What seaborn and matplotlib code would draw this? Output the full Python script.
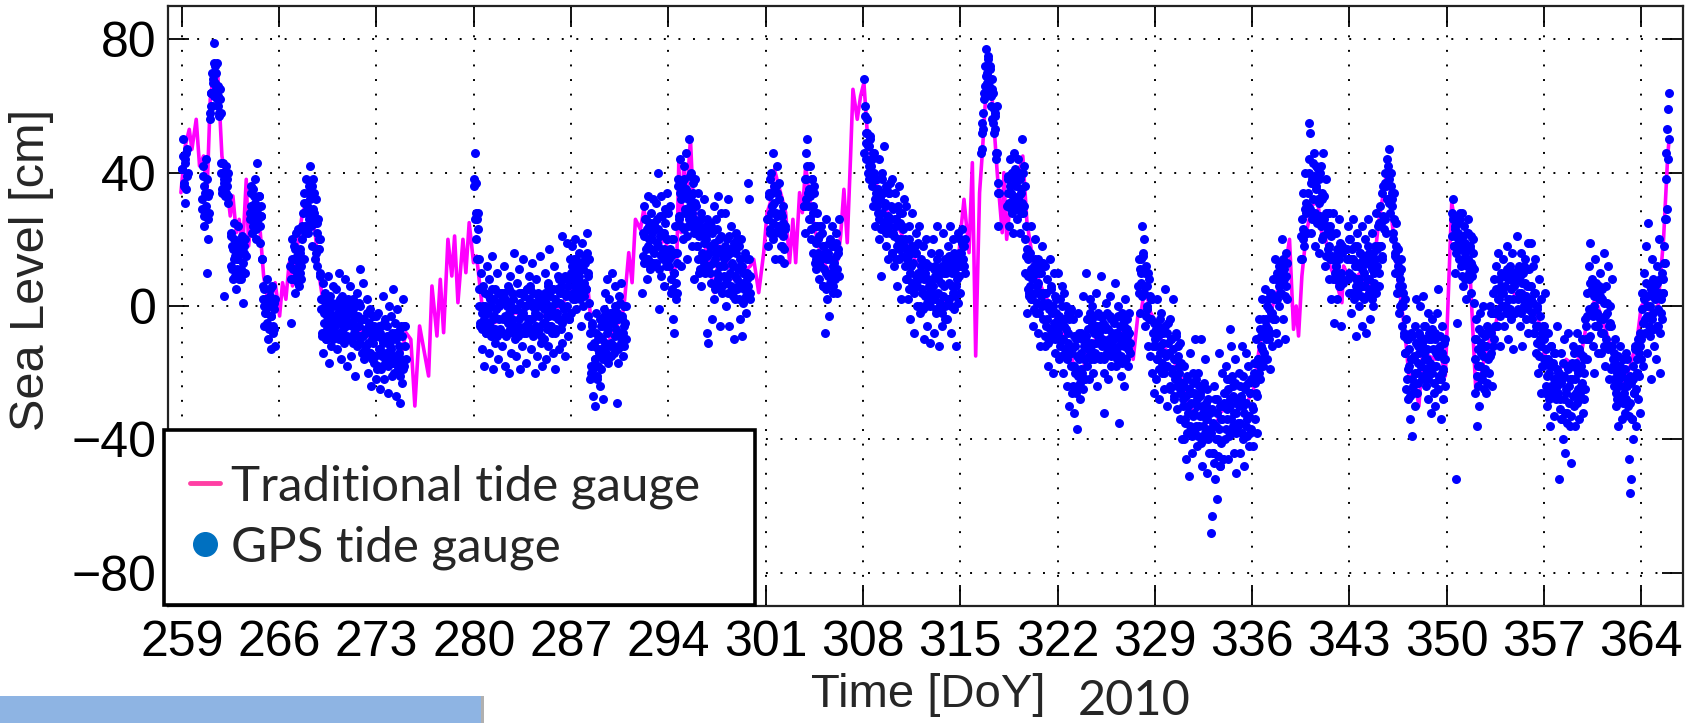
import numpy as np
import pandas as pd
import matplotlib
matplotlib.use("Agg")
import matplotlib.pyplot as plt
from matplotlib.lines import Line2D
from matplotlib.patches import Rectangle
import seaborn as sns

nan = float("nan")

# ---------------------------------------------------------------------------
# GPS tide gauge sea level [cm], 32 readings per day (every 45 min).
# gps_DDD holds the readings on the full 1.5 h marks, gps_DDD_mid the ones
# 45 min later; one list per week starting on day DDD; nan = no fix.
# ---------------------------------------------------------------------------
gps_259 = [
    41, 50, 36, 44, 31, 46, 39, nan, nan, nan, nan, nan, nan, nan, nan, nan,
    nan, nan, nan, nan, nan, nan, nan, 32, 42, 24, 36, 28, 44, 10, 20, 34,
    56, 60, 64, 70, 67, 79, 72, 65, 73, 63, 60, 57, 62, 43, 35, 40,
    3, 38, 33, 42, 36, 31, nan, nan, 22, 12, 18, 8, 25, 15, 5, 19,
    14, 24, 8, 18, 11, 21, 1, 16, 10, 20, nan, nan, nan, nan, 28, 36,
    30, 22, 35, 26, 38, 20, 43, 29, 24, 33, 19, 27, 14, 6, 0, -6,
    2, -6, 8, -10, 0, 5, -13, -3, 6, -8, 1, -12, nan, nan, nan, nan,
]
gps_259_mid = [
    41, 45, 37, 43, 35, 47, 40, nan, nan, nan, nan, nan, nan, nan, nan, nan,
    nan, nan, nan, nan, nan, nan, nan, 29, 39, 27, 34, 30, 38, 26, 33, 28,
    58, 64, 60, 68, 63, 73, 67, 70, 62, 66, 58, 65, 58, 40, 34, 43,
    37, 40, 34, 38, 33, 40, nan, nan, 21, 11, 17, 14, 20, 9, 16, 11,
    14, 18, 10, 16, 8, 20, 13, 18, 10, 15, nan, nan, nan, nan, 26, 34,
    30, 24, 33, 27, 31, 23, 29, 26, 33, 24, 30, 27, 14, 2, 5, -2,
    -2, 2, -5, 0, -7, 3, -3, 1, -6, -1, -7, 2, nan, nan, nan, nan,
]
gps_266 = [
    nan, nan, nan, nan, nan, nan, nan, nan, nan, nan, nan, nan, nan, 12, -5, 20,
    8, 18, 4, 22, 14, 10, 23, 6, 16, 12, 20, 28, 14, 34, 24, 38,
    30, 22, 36, 42, 26, 33, 18, 38, 28, 14, 32, 22, 12, 26, 17, 9,
    2, -8, 7, -14, -2, 4, -10, -5, 9, -17, -1, 3, -12, -6, 6, -3,
    -6, 5, -13, 1, -9, 10, -3, -16, 3, -7, -1, -11, 8, -4, -18, 0,
    -2, -10, 6, -15, -5, 2, -8, -21, -3, 4, -12, -6, 1, 11, -9, -14,
    -4, 7, -16, -8, -12, 2, -20, -6, -14, -1, -24, -10, -3, -17, -9, -22,
]
gps_266_mid = [
    nan, nan, nan, nan, nan, nan, nan, nan, nan, nan, nan, nan, nan, 8, 14, 11,
    14, 8, 17, 11, 15, 7, 13, 10, 17, 8, 24, 23, 31, 22, 31, 28,
    30, 34, 26, 32, 24, 36, 29, 34, 26, 25, 16, 25, 17, 20, 10, 20,
    -1, -9, 2, -5, 0, -10, -3, -7, 2, -8, -2, -5, 1, -10, -3, -8,
    -4, 0, -8, -2, -10, 2, -5, 0, -8, -3, -10, 1, -6, -1, -9, 2,
    -2, -10, 1, -6, -1, -11, -4, -8, 1, -9, -3, -6, 0, -11, -4, -9,
    -9, -4, -13, -7, -15, -2, -11, -5, -14, -8, -16, -3, -11, -6, -15, -3,
]
gps_273 = [
    -8, -19, -2, -13, -25, -6, -15, 3, -11, -22, -4, -17, -9, -26, 0, -14,
    -12, -3, -21, 5, -16, -8, -27, -10, -1, -19, -14, -29, -6, -23, 2, -17,
    -18, -6,
] + [nan] * 78
gps_273_mid = [
    -9, -18, -6, -13, -8, -19, -10, -15, -5, -17, -10, -14, -6, -18, -11, -16,
    -13, -8, -17, -10, -20, -5, -15, -9, -18, -12, -21, -7, -16, -9, -19, -6,
    -12, -16,
] + [nan] * 78
gps_280 = [
    36, 46, 20, 28, 14, 23, 5, -6, 10, -2, -13, 6, -18, 0, -8, 12,
    -5, 8, -14, 2, -9, 15, -19, -3, 5, -11, -1, 10, -16, 0, -7, 4,
    3, -12, -4, 12, -18, 1, -8, 6, -20, -2, 9, -14, -6, 2, 16, -10,
    -1, -15, 7, -6, 11, -19, -3, 4, -12, 14, -8, 0, -17, 5, -5, 9,
    -4, 6, -13, 13, -9, 1, -20, -2, 8, -15, 3, -7, 15, -11, 0, -18,
    2, -10, 10, -16, -3, 7, -12, 17, -6, -1, 5, -14, 12, -8, -19, 1,
    -2, 9, -13, 4, -7, 21, -11, 0, 8, -15, 3, 19, -9, 6, -4, 14,
]
gps_280_mid = [
    38, 26, 37, 26, 28, 14, 0, -5, 5, -7, 0, -4, 4, -8, -1, -6,
    -2, 3, -6, 0, -8, 5, -4, 2, -7, -1, -9, 4, -4, 1, -8, 4,
    1, -8, 4, -3, 2, -9, 0, -5, 5, -7, 0, -4, 4, -8, -1, -6,
    -7, -1, -9, 4, -4, 1, -8, 4, -2, 3, -6, 0, -8, 5, -4, 2,
    5, -7, 0, -4, 4, -8, -1, -6, 1, -8, 4, -3, 2, -9, 0, -5,
    -1, 4, -5, 1, -7, 6, -3, 3, -6, 0, -8, 5, -3, 2, -7, 5,
    5, -4, 8, 1, 6, -5, 4, -1, 9, -3, 4, 0, 8, -4, 3, -2,
]
gps_287 = [
    10, 18, 2, 14, 6, 20, -1, 12, 8, 16, 4, -6, 11, 19, 0, 7,
    15, 5, 22, -3, 10, 1, -8, -20, -5, -27, -12, -16, -30, -2, -22, -10,
    -14, -24, -6, -19, -10, -28, -3, 4, -12, 8, -7, -16, 2, -2, -11, 10,
    -5, -14, 6, -9, 0, -29, -17, 3, -8, -12, 7, -3, -15, -6, -10, 0,
    nan, nan, nan, nan, nan, nan, nan, nan, nan, nan, nan, nan, nan, nan, nan, nan,
    nan, nan, 4, 22, 30, 14, 26, 8, 33, 18, 24, 11, 28, 20, 32, 16,
    24, 12, 31, 19, 40, -1, 27, 9, 33, 16, 22, 6, 29, 14, 34, 20,
]
gps_287_mid = [
    8, 12, 4, 10, 2, 14, 7, 12, 4, 9, 2, 13, 6, 11, 3, 14,
    13, 5, 16, 9, 14, -22, -12, -18, -6, -19, -11, -16, -8, -21, -13, -18,
    -9, -4, -13, -6, -16, -1, -11, -5, -14, -8, -17, -3, -12, -5, -15, -2,
    -3, -12, 0, -7, -2, -13, -4, -9, 1, -11, -4, -8, 0, -12, -5, -10,
    nan, nan, nan, nan, nan, nan, nan, nan, nan, nan, nan, nan, nan, nan, nan, nan,
    nan, nan, 15, 21, 13, 26, 17, 23, 14, 20, 12, 25, 17, 22, 13, 25,
    23, 13, 26, 18, 23, 11, 21, 15, 27, 14, 22, 17, 25, 12, 20, 15,
]
gps_294 = [
    28, 14, 30, 4, 20, -4, 10, -8, 24, 2, 16, 38, 26, 44, 12, 32,
    36, 20, 42, 28, 46, 14, 34, 24, 50, 30, 40, 18, 34, 8, 26, 38,
    30, 18, 34, 10, 24, 6, 28, 14, 22, 32, 12, 20, -8, 26, -11, 16,
    10, 24, -4, 18, 30, 2, 14, 26, 6, 33, 20, -6, 12, 28, 4, 16,
    14, 28, 0, 20, 8, 32, -6, 16, 24, 4, 12, -10, 18, 2, 22, 8,
    6, 18, -4, 12, 20, -9, 10, 2, 16, -2, 14, 8, 37, 32, 4, nan,
    nan, nan, nan, nan, nan, nan, nan, nan, nan, nan, nan, nan, nan, nan, nan, nan,
]
gps_294_mid = [
    12, 17, 8, 15, 5, 20, 10, 16, 7, 13, 4, 36, 27, 34, 24, 37,
    34, 23, 38, 29, 35, 21, 32, 26, 39, 24, 33, 28, 37, 22, 31, 25,
    18, 23, 14, 21, 11, 26, 16, 22, 13, 19, 10, 24, 15, 22, 12, 25,
    18, 7, 22, 13, 19, 5, 16, 10, 23, 8, 17, 12, 21, 6, 15, 9,
    12, 18, 7, 15, 4, 21, 10, 17, 6, 13, 3, 19, 9, 16, 5, 20,
    11, 2, 14, 7, 12, 1, 10, 5, 15, 3, 10, 6, 14, 2, 9, nan,
    nan, nan, nan, nan, nan, nan, nan, nan, nan, nan, nan, nan, nan, nan, nan, nan,
]
gps_301 = [
    nan, nan, 26, 18, 34, 22, 40, 30, 46, 20, 36, 14, 28, 42, 24, 32,
    22, 14, 28, 18, 30, 13, 24, nan, nan, nan, nan, nan, nan, nan, nan, nan,
    nan, nan, nan, nan, nan, nan, nan, nan, nan, nan, nan, nan, 30, 22, 38, 46,
    50, 34, 26, 42, 20, 38, 30, 16, 36, 24, 14, 28, 20, 8, 24, 12,
    14, 22, 6, 18, -8, 10, 26, 2, 16, -3, 20, 8, 24, 12, 4, 18,
    10, 22, 4, 16, 26, nan, nan, nan, nan, nan, nan, nan, nan, nan, nan, nan,
    nan, nan, nan, nan, nan, nan, nan, nan, nan, nan, nan, nan, nan, nan, nan, nan,
]
gps_301_mid = [
    nan, nan, 26, 33, 23, 38, 28, 34, 25, 31, 22, 36, 27, 34, 24, 37,
    24, 18, 27, 21, 25, 17, 23, nan, nan, nan, nan, nan, nan, nan, nan, nan,
    nan, nan, nan, nan, nan, nan, nan, nan, nan, nan, nan, nan, 30, 38, 32, 42,
    30, 35, 26, 33, 23, 38, 28, 34, 13, 19, 11, 24, 16, 21, 12, 24,
    15, 6, 18, 11, 16, 5, 14, 9, 19, 7, 14, 10, 18, 6, 13, 8,
    15, 19, 11, 17, 9, nan, nan, nan, nan, nan, nan, nan, nan, nan, nan, nan,
    nan, nan, nan, nan, nan, nan, nan, nan, nan, nan, nan, nan, nan, nan, nan, nan,
]
gps_308 = [
    nan, 68, 60, 52, 44, 56, 48, 38, 50, 42, 36, 46, 30, 40, 24, 34,
    38, 28, 44, 20, 32, 9, 40, 24, 48, 30, 18, 36, 26, 14, 34, 22,
    30, 16, 38, 22, 12, 34, 26, 6, 20, 36, 14, 28, 2, 24, 18, 32,
    20, 8, 30, 14, 2, 24, -4, 12, 18, 28, 6, -8, 16, 22, 0, 10,
    8, 24, -2, 14, 4, 18, -10, 10, 0, 20, -6, 12, 6, -11, 16, 2,
    4, 20, -8, 12, -2, 24, 8, -12, 16, 0, 10, -6, 22, 6, -4, 14,
    10, -4, 18, 2, 24, -8, 14, 6, 20, -1, 12, -12, 8, 22, 16, 12,
]
gps_308_mid = [
    nan, 46, 57, 49, 52, 40, 48, 42, 51, 38, 44, 39, 46, 32, 38, 32,
    30, 35, 26, 33, 23, 38, 28, 34, 25, 31, 22, 36, 27, 34, 24, 37,
    26, 16, 29, 21, 26, 14, 24, 18, 30, 17, 25, 20, 28, 15, 23, 18,
    12, 17, 8, 15, 5, 20, 10, 16, 7, 13, 4, 18, 9, 16, 6, 19,
    9, 0, 12, 5, 10, -1, 8, 3, 13, 1, 8, 4, 12, 0, 7, 2,
    6, 11, 2, 9, -1, 14, 4, 10, 1, 7, -2, 12, 3, 10, 0, 13,
    12, 2, 15, 7, 12, 0, 10, 4, 16, 3, 11, 6, 14, 1, 9, 4,
]
gps_315 = [
    20, 12, 23, 14, 18, 10, nan, nan, nan, nan, nan, nan, nan, nan, nan, nan,
    nan, nan, nan, nan, nan, nan, nan, nan, 46, 52, 58, 62, 66, 72, 77, 70,
    74, 66, 72, 60, 68, 56, 64, 52, 58, 46, 60, 34, 24, nan, nan, nan,
    nan, nan, nan, nan, nan, nan, 30, 38, 24, 44, 34, 28, 40, 22, 46, 32,
    36, 26, 44, 30, 40, 22, 34, 50, 28, 42, 20, 10, 24, -2, 14, 4,
    16, 2, 24, 8, -6, 12, 20, -2, 6, 14, -8, 10, -12, 4, 18, -4,
    4, -12, 12, -6, 8, -18, 0, 14, -10, 6, -2, -20, 10, -14, 2, -8,
]
gps_315_mid = [
    16, 19, 13, 18, 12, 20, nan, nan, nan, nan, nan, nan, nan, nan, nan, nan,
    nan, nan, nan, nan, nan, nan, nan, nan, 47, 55, 53, 64, 63, 69, 67, 75,
    72, 64, 71, 63, 65, 55, 59, 53, 57, 44, 46, 37, 34, nan, nan, nan,
    nan, nan, nan, nan, nan, nan, 34, 39, 31, 36, 29, 40, 33, 38, 30, 41,
    37, 29, 40, 33, 38, 28, 35, 31, 40, 30, 36, 15, 17, 5, 9, 3,
    6, 11, 2, 9, -1, 14, 4, 10, 1, 7, -2, 12, 3, 10, 0, 13,
    1, -9, 4, -4, 1, -11, -1, -7, 5, -8, 0, -5, 3, -10, -2, -7,
]
gps_322 = [
    -4, 10, -16, 2, -10, 6, -20, -6, 4, -14, 0, -24, -8, -30, -2, -18,
    -14, -26, -4, -32, -20, -10, -37, -24, -2, -16, -28, -8, -20, 3, -12, -22,
    -10, 10, -18, -4, -22, 2, -12, -16, 0, -20, -7, -14, 4, -24, -9, -2,
    -8, -16, 9, -12, -3, -20, -32, -6, 1, -14, -22, -10, 3, -18, -4, -12,
    -12, -4, 7, -18, -8, -14, 0, -35, -10, -21, -2, -16, -6, -24, 2, -11,
    -9, -18, -2, -14, nan, nan, nan, nan, nan, nan, nan, nan, nan, 6, 14, -2,
    10, 24, 16, 4, 20, -6, 12, 0, -12, 8, -4, -15, 2, -20, -8, -26,
]
gps_322_mid = [
    -8, -3, -12, -5, -15, 0, -10, -4, -13, -7, -16, -2, -11, -4, -14, -1,
    -13, -24, -9, -18, -12, -26, -15, -21, -8, -23, -14, -19, -10, -25, -16, -22,
    -9, -4, -13, -7, -15, -2, -11, -5, -14, -8, -16, -3, -11, -6, -15, -3,
    -6, -15, -3, -10, -5, -16, -7, -12, -2, -14, -7, -11, -3, -15, -8, -13,
    -10, -5, -14, -8, -16, -3, -12, -6, -15, -9, -17, -4, -12, -7, -16, -4,
    -7, -13, -8, -11, nan, nan, nan, nan, nan, nan, nan, nan, nan, 4, 11, 7,
    14, 3, 15, 6, 10, -3, 6, -1, 10, -4, 3, -4, 2, -12, -5, -12,
]
gps_329 = [
    -10, -22, 2, -16, -6, -28, -12, -2, -20, -8, -25, -14, 5, -18, -30, -11,
    -14, -4, -24, -10, -20, 2, -28, -16, -8, -22, -31, -12, -18, -34, -26, -40,
    -28, -40, -18, -34, -46, -22, -30, -51, -14, -38, -26, -44, -20, -32, -10, -36,
    -30, -42, -20, -36, -26, -10, -48, -32, -24, -40, -16, -34, -50, -28, -44, -38,
    -32, -68, -63, -44, -24, -52, -36, -58, -28, -40, -14, -48, -34, -20, -46, -30,
    -26, -40, -18, -34, -46, -22, -7, -30, -12, -38, -24, -44, -16, -32, -50, -28,
    -36, -20, -44, -28, -12, -40, -30, -48, -24, -14, -34, -18, -42, -26, -38, -22,
]
gps_329_mid = [
    -12, -7, -16, -9, -19, -4, -14, -8, -17, -11, -20, -6, -15, -8, -18, -5,
    -14, -25, -10, -19, -13, -27, -16, -22, -9, -24, -15, -20, -11, -26, -17, -23,
    -30, -24, -35, -27, -38, -21, -32, -25, -36, -29, -39, -23, -33, -26, -37, -22,
    -28, -39, -24, -33, -27, -41, -30, -36, -23, -38, -29, -34, -25, -40, -31, -37,
    -38, -31, -44, -35, -47, -28, -40, -32, -45, -37, -48, -30, -41, -34, -46, -29,
    -26, -37, -22, -31, -25, -39, -28, -34, -21, -36, -27, -32, -23, -38, -29, -35,
    -30, -24, -35, -27, -38, -21, -32, -25, -36, -29, -39, -23, -33, -26, -37, -22,
]
gps_336 = [
    -30, -42, -20, -34, -10, -26, -38, -16, -4, -22, -12, 2, -18, -8, -14, 5,
    -6, -16, 2, -10, 4, -19, -2, -12, 8, -4, 14, -8, 2, 10, -11, 6,
    4, 12, 20, -4, 14, 8, -10, 16, 2, nan, nan, nan, nan, nan, nan, nan,
    nan, nan, nan, nan, nan, nan, nan, nan, 14, 26, 20, 34, 18, 40, 28, 22,
    30, 44, 55, 52, 22, 38, 28, 46, 18, 36, 42, 26, 32, 16, 40, 24,
    34, 20, 46, 26, 12, 38, 22, 28, 8, 18, 24, 2, 14, 28, -5, 10,
    12, 22, 2, 16, 26, 6, -6, 18, 8, nan, nan, nan, nan, 14, 24, 4,
]
gps_336_mid = [
    -22, -31, -17, -23, -17, -27, -16, -20, -7, -18, -9, -13, -4, -16, -7, -10,
    -4, 0, -7, -1, -8, 4, -2, 3, -4, 2, -4, 8, 2, 8, 0, 12,
    10, 4, 13, 7, 11, 3, 9, 6, 13, nan, nan, nan, nan, nan, nan, nan,
    nan, nan, nan, nan, nan, nan, nan, nan, 21, 14, 23, 22, 29, 22, 31, 29,
    34, 40, 29, 37, 26, 43, 32, 39, 28, 35, 25, 41, 31, 38, 27, 42,
    32, 21, 33, 24, 28, 15, 24, 17, 28, 14, 21, 15, 22, 8, 14, 8,
    12, 17, 8, 14, 6, 19, 10, 16, 7, nan, nan, nan, nan, 17, 8, 20,
]
gps_343 = [
    10, 20, -2, 14, 26, 4, 18, 8, -9, 22, 12, 0, 16, 6, 24, -6,
    14, 2, 20, -8, 8, 26, 4, 16, -4, 12, 22, 0, 10, 18, 6, 28,
    12, 24, 6, 30, 18, 34, 14, 36, 26, 40, 22, 44, 32, 47, 38, 28,
    40, 30, 20, 34, 16, 10, 18, 4, 12, -2, 8, 14, -6, 6, 0, -9,
    -14, -4, -22, -10, -28, -18, -34, -8, -39, -26, -16, -30, -6, 2, -20, -12,
    -8, 0, -18, -12, -22, 3, -14, -6, -24, -16, -2, -28, -10, -20, -32, -4,
    -18, -26, -8, -30, -14, -2, 5, -22, -12, -34, -20, -6, -28, -16, -10, nan,
]
gps_343_mid = [
    14, 4, 17, 9, 14, 2, 12, 6, 18, 5, 13, 8, 16, 3, 11, 6,
    10, 15, 6, 13, 3, 18, 8, 14, 5, 11, 2, 16, 7, 14, 4, 17,
    18, 10, 25, 18, 25, 15, 27, 23, 37, 26, 36, 32, 42, 31, 40, 36,
    32, 34, 22, 26, 15, 25, 14, 17, 6, 10, 0, 11, 1, 4, -8, 2,
    -14, -25, -10, -19, -13, -27, -16, -22, -9, -24, -15, -20, -11, -26, -17, -23,
    -14, -9, -18, -11, -21, -6, -16, -10, -19, -13, -22, -8, -17, -10, -20, -7,
    -13, -23, -10, -18, -13, -25, -15, -21, -9, -22, -14, -19, -11, -24, -16, nan,
]
gps_350 = [
    nan, nan, nan, nan, nan, nan, 28, 32, 18, 24, 10, -52, -5, 22, 14, 26,
    20, 12, 28, 6, 24, 16, 2, 22, 14, 26, 8, 18, 4, 12, 20, 1,
    -10, -26, -4, -36, -18, -30, -2, -14, -22, -8, 0, -20, -12, -26, -6, -16,
    -8, -20, 0, -14, -24, 4, -10, 8, -2, 12, -6, 16, 2, -12, 10, 6,
    4, 14, -6, 10, 0, 18, -10, 8, 2, 12, -4, 16, -13, 6, -2, 10,
    8, 21, 2, 12, -6, 16, 4, -12, 10, 0, 14, -4, 6, 19, -8, 11,
    6, 19, -2, 12, -8, 4, 14, -14, 0, -20, 8, -10, -26, 2, -18, -6,
]
gps_350_mid = [
    nan, nan, nan, nan, nan, nan, 21, 26, 18, 23, 16, 27, 20, 25, 17, 28,
    18, 9, 21, 14, 19, 8, 17, 12, 22, 10, 17, 13, 21, 9, 16, 11,
    -16, -10, -21, -13, -24, -7, -18, -11, -22, -15, -25, -9, -19, -12, -23, -8,
    -7, -15, -2, -8, -2, -12, -2, -6, 5, -6, 2, -1, 8, -3, 4, 0,
    4, 9, 0, 6, -2, 11, 2, 8, -1, 5, -3, 10, 2, 7, -2, 10,
    8, -1, 11, 4, 9, -2, 7, 2, 12, 0, 7, 3, 11, -1, 6, 1,
    2, 6, -4, 1, -8, 4, -6, -1, -11, -6, -15, -3, -12, -8, -18, -6,
]
gps_357 = [
    -10, 4, -24, -16, -30, -8, -20, -36, -12, -26, -18, -33, -14, -22, -28, -6,
    -20, -52, -28, -14, -34, -22, -40, -10, -44, -26, -18, -32, -8, -24, -36, -47,
    -22, -12, -30, -18, -36, -26, -8, -20, -34, -14, -28, -24, -10, -32, -16, -4,
    -6, -16, 4, -10, 12, 19, -2, 8, -12, 0, -20, 14, -6, 6, -14, 2,
    -4, 10, -14, 2, -8, 16, -18, 6, -2, -12, 12, -22, 0, -6, 8, -16,
    -14, -24, -10, -30, -18, -36, -22, -12, -28, -20, -34, -16, -26, -32, -14, -24,
    -22, -30, -46, -56, -52, -34, -18, -40, -26, -12, -36, -20, -28, -14, -32, -8,
]
gps_357_mid = [
    -16, -26, -13, -21, -16, -28, -18, -24, -12, -25, -17, -22, -14, -27, -19, -24,
    -26, -20, -31, -23, -34, -17, -28, -21, -32, -25, -35, -19, -29, -22, -33, -18,
    -17, -27, -14, -22, -17, -29, -19, -25, -13, -26, -18, -23, -15, -28, -20, -25,
    -10, -3, -10, -1, -9, 7, -2, 5, -3, 3, -6, 7, -2, 4, -6, 6,
    3, -8, 5, -4, 1, -12, -3, -10, 1, -13, -6, -12, -5, -19, -12, -18,
    -22, -17, -26, -20, -28, -15, -24, -18, -27, -21, -29, -16, -24, -19, -28, -16,
    -22, -33, -21, -29, -23, -34, -22, -26, -13, -25, -16, -20, -10, -21, -12, -16,
]
gps_364 = [
    -10, 4, -18, 10, -4, 18, -14, 0, 25, -8, 6, -22, 14, -2, 8, -12,
    2, -16, 12, -6, 20, -20, 8, -2, 10, 4, 18, 26, 38, 46, 53, 59,
    64,
]
gps_364_mid = [
    -1, 4, -5, 2, -8, 7, -3, 3, -6, 0, -9, 5, -4, 3, -7, 6,
    4, -6, 7, -1, 4, -8, 2, -4, 8, 4, 13, 13, 26, 29, 44, 50,
]

# ---------------------------------------------------------------------------
# Traditional tide gauge [cm]: turning points of the record (day, value)
# ---------------------------------------------------------------------------
tide_day_259 = [258.93, 259.24, 259.53, 259.72, 260.03, 260.27, 260.56, 260.8, 261.04, 261.35,
                261.59, 261.88, 262.24, 262.48, 262.67, 262.91, 263.12, 263.36, 263.63, 263.8,
                264.08, 264.64, 264.88, 265.24, 265.52, 265.71, 266.03, 266.24, 266.48, 266.72,
                266.96, 267.27, 267.68, 268.06, 268.59, 268.88, 269.31, 270.27, 271.47, 272.19,
                273.15, 274.11, 274.71, 275.12, 275.47, 275.76, 276.1, 276.75, 276.99, 277.35,
                277.59, 277.83, 278.14, 278.42, 278.62, 278.86, 279.22, 279.43, 279.67, 279.98]
tide_cm_259 = [34, 48, 53, 47, 56, 42, 45, 33, 62, 72,
               69, 45, 36, 27, 33, 22, 26, 16, 38, 18,
               30, 22, 9, 0, 4, 7, -3, 7, 2, 13,
               6, 17, 28, 32, 22, 9, -3, -4, -7, -8,
               -13, -18, -16, -8, -10, -30, -6, -21, 6, -9,
               8, -8, 20, 9, 21, 1, 20, 10, 25, 13]

tide_day_280 = [280.2, 280.6, 281.5, 283.0, 284.5, 286.0, 287.0, 287.6, 288.2, 288.5,
                289.5, 290.3, 290.79, 291.15, 291.39, 291.63, 291.99, 292.23, 292.6, 293.2,
                293.8, 294.2, 294.6, 294.75, 294.92, 295.1, 295.3, 295.59, 295.78, 296.07,
                296.5, 296.9, 297.3, 297.7, 298.2, 298.7, 299.3, 299.9, 300.14, 300.5,
                300.86, 301.1, 301.34, 301.63, 301.94]
tide_cm_280 = [15, 0, -5, -2, -4, -1, 4, 8, 6, -8,
               -12, -6, -1, 16, 7, 26, 23, 29, 22, 18,
               20, 10, 12, 43, 22, 42, 32, 50, 32, 24,
               20, 14, 4, 18, 14, 8, 10, 12, 14, 4,
               16, 28, 31, 41, 36]

tide_day_302 = [302.2, 302.44, 302.72, 302.96, 303.16, 303.44, 303.64, 303.88, 304.3, 304.8,
                305.3, 305.8, 306.2, 306.39, 306.63, 306.87, 307.11, 307.28, 307.59, 307.83,
                308.07, 308.31, 308.7, 309.2, 309.8, 310.5, 311.2, 312.0, 312.7, 313.3,
                313.8, 314.3, 314.8, 315.03, 315.27, 315.63, 315.87, 316.11, 316.39, 316.59,
                316.9, 317.1, 317.3, 317.66, 318.02, 318.14, 318.34, 318.7, 319.2, 319.5,
                319.8, 320.3, 320.9, 321.5, 322.0, 322.6, 323.2, 323.7]
tide_cm_302 = [32, 28, 13, 26, 13, 34, 28, 42, 28, 18,
               12, 10, 14, 21, 35, 19, 45, 65, 56, 63,
               67, 52, 42, 32, 28, 24, 18, 12, 6, 4,
               2, 0, 10, 22, 32, 16, 43, -15, 34, 46,
               68, 72, 62, 40, 22, 40, 20, 35, 40, 45,
               25, 12, 5, 0, -5, -10, -18, -22]

tide_day_324 = [324.2, 325.0, 325.8, 326.6, 327.0, 327.2, 327.44, 327.8, 328.04, 328.3,
                328.7, 329.1, 329.6, 330.3, 330.8, 331.3, 331.8, 332.3, 332.7, 333.2,
                333.7, 334.3, 334.9, 335.5, 336.1, 336.6, 337.1, 337.6, 338.1, 338.4,
                338.69, 338.98, 339.17, 339.34, 339.58, 339.9, 340.3, 340.7, 341.0, 341.3,
                341.6, 342.0, 342.46, 342.58, 342.8, 343.3, 343.8, 344.3, 344.7, 345.1,
                345.6, 345.9]
tide_cm_324 = [-12, -9, -10, -8, -9, -8, -16, -2, -1, 6,
               -2, -5, -12, -16, -20, -28, -32, -30, -36, -38,
               -32, -30, -27, -30, -25, -10, -6, 2, 8, 12,
               20, -7, 0, -9, 9, 22, 30, 32, 22, 20,
               12, 8, 1, 12, 10, 8, 10, 4, 10, 25,
               38, 40]

tide_day_346 = [346.0, 346.5, 347.0, 347.3, 347.6, 348.0, 348.3, 348.7, 349.2, 349.6,
                349.9, 350.36, 350.8, 351.3, 351.7, 352.1, 352.4, 352.9, 353.4, 353.9,
                354.4, 355.0, 355.6, 356.2, 356.6, 357.0, 357.5, 358.0, 358.6, 359.2,
                359.7, 360.2, 360.7, 361.2, 361.8, 362.3, 362.7, 363.2, 363.7, 364.0,
                364.4, 364.8, 365.2, 365.6, 365.9, 366.0]
tide_cm_346 = [28, 8, -8, -22, -20, -30, -12, -15, -16, -15,
               -21, 31, 20, 15, 8, -26, -22, -12, -8, 2,
               6, 3, 4, 2, -4, -14, -18, -20, -16, -18,
               -14, -2, 2, -4, -12, -20, -24, -18, -10, 0,
               2, -4, 0, 20, 45, 50]

x_ticks = [259, 266, 273, 280, 287, 294, 301, 308, 315, 322, 329, 336, 343, 350, 357, 364]
y_ticks = [-80, -40, 0, 40, 80]
legend_labels = ["Traditional tide gauge", "GPS tide gauge"]

# ---------------------------------------------------------------------------
gps_weeks = [(259, gps_259, gps_259_mid), (266, gps_266, gps_266_mid),
             (273, gps_273, gps_273_mid), (280, gps_280, gps_280_mid),
             (287, gps_287, gps_287_mid), (294, gps_294, gps_294_mid),
             (301, gps_301, gps_301_mid), (308, gps_308, gps_308_mid),
             (315, gps_315, gps_315_mid), (322, gps_322, gps_322_mid),
             (329, gps_329, gps_329_mid), (336, gps_336, gps_336_mid),
             (343, gps_343, gps_343_mid), (350, gps_350, gps_350_mid),
             (357, gps_357, gps_357_mid), (364, gps_364, gps_364_mid)]
frames = []
for start, on_mark, between in gps_weeks:
    frames.append(pd.DataFrame({"day": start + np.arange(len(on_mark)) / 16.0,
                                "cm": on_mark}))
    frames.append(pd.DataFrame({"day": start + (np.arange(len(between)) + 0.5) / 16.0,
                                "cm": between}))
gps = pd.concat(frames, ignore_index=True).dropna().sort_values("day")

tide = pd.DataFrame({
    "day": tide_day_259 + tide_day_280 + tide_day_302 + tide_day_324 + tide_day_346,
    "cm": tide_cm_259 + tide_cm_280 + tide_cm_302 + tide_cm_324 + tide_cm_346,
})

sns.set_style("ticks")
plt.rcParams["font.family"] = ["Liberation Sans", "DejaVu Sans"]
CALIBRI_LIKE = ["Lato", "DejaVu Sans"]

W, H = 1693, 723
fig = plt.figure(figsize=(W / 100, H / 100), dpi=100)
ax = fig.add_axes([168 / W, 117 / H, 1515 / W, 600 / H])

sns.lineplot(data=tide, x="day", y="cm", ax=ax, color="#FF00FF", linewidth=2.6,
             sort=False, estimator=None, legend=False, zorder=2)
sns.scatterplot(data=gps, x="day", y="cm", ax=ax, color="#0000FF", s=42,
                linewidth=0, legend=False, zorder=3)

ax.set_xlim(258, 367)
ax.set_ylim(-90, 90)
ax.set_xticks(x_ticks)
ax.set_yticks(y_ticks)
ax.grid(True, color="black", linestyle=(0, (1, 6.5)), linewidth=1.4)
ax.tick_params(direction="in", length=15, width=1.3, top=True, right=True,
               labelsize=36, colors="black")
ax.tick_params(axis="x", pad=10)
ax.tick_params(axis="y", pad=8)
for sp in ax.spines.values():
    sp.set_linewidth(1.6)
    sp.set_color("#222222")

ax.set_ylabel("Sea Level [cm]", fontsize=35)
ax.yaxis.set_label_coords((54 - 168) / 1515, (606 - 270) / 600)
ax.set_xlabel("Time [DoY]", fontsize=34)
ax.xaxis.set_label_coords((928 - 168) / 1515, -(673 - 606) / 600)
fig.text(1134 / W, 8 / H, "2010", family=CALIBRI_LIKE, fontsize=35,
         ha="center", va="baseline")

# legend box laid over the lower-left corner of the plot
fig.patches.append(Rectangle((164 / W, 1 - 605 / H), (755 - 164) / W, (605 - 430) / H,
                             transform=fig.transFigure, facecolor="white",
                             edgecolor="black", linewidth=2.6, zorder=4))
handles = [Line2D([], [], color="#FF3FA4", linewidth=3.5),
           Line2D([], [], color="#0070C0", marker="o", linestyle="none", markersize=17)]
leg = fig.legend(handles, legend_labels, loc="center left",
                 bbox_to_anchor=(190 / W, 1 - 517 / H), frameon=False,
                 handlelength=0.6, handletextpad=0.24, borderpad=0,
                 labelspacing=0.33, borderaxespad=0,
                 prop={"family": CALIBRI_LIKE, "size": 35.5})
leg.set_zorder(5)

# light blue caption strip at the bottom-left edge
fig.patches.append(Rectangle((3 / W, 0), 481 / W, 27 / H, transform=fig.transFigure,
                             facecolor="#B0B0B0", edgecolor="none", zorder=1))
fig.patches.append(Rectangle((0, 0), 481 / W, 27 / H, transform=fig.transFigure,
                             facecolor="#8EB4E3", edgecolor="none", zorder=2))

fig.savefig("out.png", dpi=100)
